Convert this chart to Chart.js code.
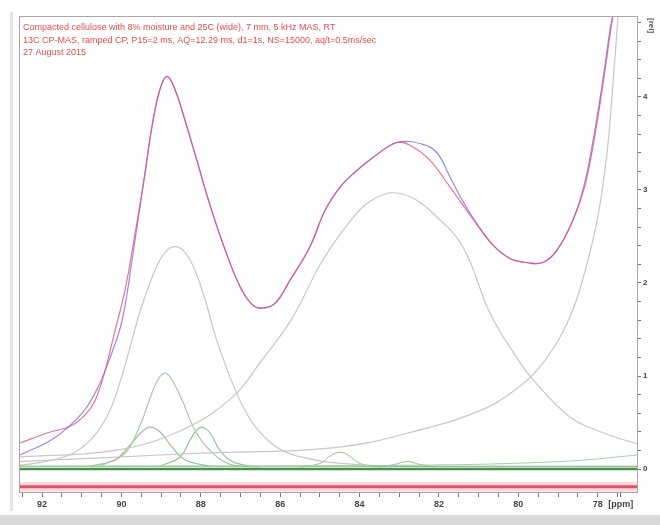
<!DOCTYPE html>
<html>
<head>
	<title>13C CP-MAS deconvolution</title>
	<style>
		body { margin: 0; background: #fff; }
		#wrap { width: 660px; height: 525px; }
	</style>
</head>
<body>
<div id="wrap"><canvas id="spec" width="660" height="525"></canvas></div>

<script src="https://cdn.jsdelivr.net/npm/chart.js@4.4.1/dist/chart.umd.min.js"></script>
<script type="text/javascript">

	// header lines printed in the plot
	var headerLines = [
		'Compacted cellulose with 8% moisture and 25C (wide), 7 mm, 5 kHz MAS, RT',
		'13C CP-MAS, ramped CP, P15=2 ms, AQ=12.29 ms, d1=1s, NS=15000, aq/t=0.5ms/sec',
		'27 August 2015'
	];

	var xLabels = [92, 90, 88, 86, 84, 82, 80, 78];
	var yLabels = [0, 1, 2, 3, 4];

	// measured spectrum (red)
	var expPpm = [92.55, 91.85, 91.29, 90.92, 90.66, 90.41, 90.16, 89.91, 89.66, 89.41, 89.23, 89.03, 88.85, 88.65, 88.40, 88.10, 87.77, 87.39, 87.01, 86.71, 86.46, 86.13, 85.75, 85.25, 84.87, 84.49, 84.12, 83.66, 83.06, 82.73, 82.23, 81.72, 81.40, 81.00, 80.60, 80.20, 79.80, 79.38, 79.03, 78.62, 78.32, 78.07, 77.87, 77.69, 77.62, 77.55];
	var expVal = [0.28, 0.39, 0.46, 0.58, 0.74, 1.06, 1.49, 1.92, 2.52, 3.16, 3.68, 4.08, 4.22, 4.08, 3.75, 3.32, 2.84, 2.36, 1.96, 1.77, 1.73, 1.78, 2.03, 2.39, 2.78, 3.03, 3.19, 3.35, 3.51, 3.48, 3.32, 3.03, 2.84, 2.60, 2.39, 2.26, 2.22, 2.22, 2.35, 2.68, 3.05, 3.59, 4.13, 4.67, 4.88, 5.20];

	// fitted sum (blue)
	var fitPpm = [92.55, 91.67, 90.99, 90.59, 90.24, 89.98, 89.73, 89.48, 89.23, 89.03, 88.85, 88.65, 88.40, 88.10, 87.77, 87.39, 87.01, 86.71, 86.46, 86.13, 85.75, 85.25, 84.87, 84.49, 84.12, 83.66, 83.06, 82.40, 82.05, 81.72, 81.40, 81.00, 80.60, 80.20, 79.80, 79.38, 79.03, 78.62, 78.32, 78.07, 77.87, 77.69, 77.62, 77.55];
	var fitVal = [0.15, 0.34, 0.60, 0.88, 1.25, 1.60, 2.25, 2.97, 3.68, 4.08, 4.22, 4.08, 3.75, 3.32, 2.84, 2.36, 1.96, 1.77, 1.73, 1.78, 2.03, 2.39, 2.78, 3.03, 3.19, 3.35, 3.51, 3.49, 3.40, 3.14, 2.88, 2.61, 2.39, 2.26, 2.22, 2.22, 2.35, 2.68, 3.09, 3.65, 4.18, 4.72, 4.88, 5.20];

	// broad components (grey)
	var peakAPpm = [92.55, 91.80, 91.17, 90.66, 90.29, 89.98, 89.73, 89.48, 89.15, 88.90, 88.65, 88.40, 88.15, 87.89, 87.64, 87.31, 86.96, 86.56, 85.95, 85.25, 84.49, 82.98, 77.01];
	var peakAVal = [0.04, 0.09, 0.18, 0.37, 0.63, 1.01, 1.39, 1.76, 2.14, 2.33, 2.39, 2.33, 2.14, 1.82, 1.44, 1.04, 0.69, 0.42, 0.20, 0.11, 0.06, 0.03, 0.02];

	var peakBPpm = [92.55, 90.16, 88.47, 87.21, 86.46, 85.70, 84.92, 84.07, 83.61, 83.16, 82.65, 82.15, 81.40, 80.72, 80.09, 79.63, 78.70, 77.87, 77.01];
	var peakBVal = [0.13, 0.20, 0.42, 0.77, 1.17, 1.62, 2.25, 2.75, 2.91, 2.97, 2.91, 2.75, 2.39, 1.68, 1.23, 0.96, 0.56, 0.39, 0.27];

	var peakCPpm = [92.55, 90.54, 88.02, 84.62, 82.48, 80.79, 79.96, 79.53, 79.13, 78.78, 78.45, 78.02, 77.77, 77.62, 77.49, 77.42];
	var peakCVal = [0.08, 0.12, 0.17, 0.23, 0.42, 0.66, 0.89, 1.06, 1.29, 1.56, 1.93, 2.66, 3.38, 4.12, 4.86, 5.30];

	// narrow components (green)
	var g1Ppm = [90.54, 89.91, 89.53, 89.28, 89.08, 88.90, 88.73, 88.47, 88.15, 87.77, 87.26, 86.51];
	var g1Val = [0.03, 0.17, 0.47, 0.76, 0.96, 1.03, 0.96, 0.74, 0.42, 0.20, 0.05, 0.02];

	var g2Ppm = [90.79, 90.16, 89.78, 89.48, 89.28, 89.03, 88.73, 88.40, 87.77];
	var g2Val = [0.03, 0.10, 0.26, 0.40, 0.45, 0.40, 0.24, 0.10, 0.03];

	var g3Ppm = [89.03, 88.52, 88.27, 88.10, 87.97, 87.77, 87.52, 87.21, 86.76];
	var g3Val = [0.03, 0.13, 0.31, 0.42, 0.45, 0.39, 0.20, 0.08, 0.03];

	var g4Ppm = [85.50, 85.00, 84.70, 84.49, 84.29, 83.99, 83.49];
	var g4Val = [0.02, 0.06, 0.15, 0.18, 0.15, 0.06, 0.02];

	var g5Ppm = [83.49, 83.11, 82.81, 82.48, 82.10];
	var g5Val = [0.02, 0.05, 0.08, 0.05, 0.02];

	// baselines and residual
	var flatPpm = [92.58, 77.01];
	var zeroVal = [0.0, 0.0];
	var lowVal = [0.03, 0.03];
	var slopePpm = [92.58, 82.98, 78.95, 77.01];
	var slopeVal = [0.03, 0.04, 0.08, 0.15];
	var residVal = [-0.19, -0.19];


	function pts(xs, ys) {
		var arr = [];
		for (var i = 0; i < xs.length; i++) {
			arr.push({x: xs[i], y: ys[i]});
		}
		return arr;
	}

	function line(xs, ys, color, width) {
		return {
			data: pts(xs, ys),
			borderColor: color,
			borderWidth: width,
			pointRadius: 0,
			fill: false,
			tension: 0.4
		};
	}

	var grey = 'rgb(204,196,204)';
	var green = 'rgb(150,195,150)';

	var datasets = [
		line(flatPpm, residVal, 'rgba(245,150,160,0.35)', 10),
		line(flatPpm, residVal, 'rgb(222,45,60)', 3),
		line(slopePpm, slopeVal, 'rgb(165,208,165)', 1),
		line(flatPpm, lowVal, 'rgb(125,182,125)', 1),
		line(peakCPpm, peakCVal, grey, 1.2),
		line(peakBPpm, peakBVal, grey, 1.2),
		line(peakAPpm, peakAVal, grey, 1.2),
		line(g1Ppm, g1Val, 'rgb(172,196,168)', 1.2),
		line(g2Ppm, g2Val, green, 1.2),
		line(g3Ppm, g3Val, green, 1.2),
		line(g4Ppm, g4Val, green, 1),
		line(g5Ppm, g5Val, green, 1),
		line(flatPpm, zeroVal, 'rgb(70,145,80)', 2.5),
		line(expPpm, expVal, 'rgba(225,80,125,0.8)', 1.2),
		line(fitPpm, fitVal, 'rgba(120,95,225,0.75)', 1.2)
	];

	// frame, header text and axis unit
	var decor = {
		id: 'decor',
		beforeDraw: function (chart) {
			var c = chart.ctx;
			c.save();
			c.fillStyle = '#ffffff';
			c.fillRect(0, 0, chart.width, chart.height);
			c.fillStyle = '#d9d9d9';
			c.fillRect(0, chart.height - 10, chart.width, 10);
			c.fillStyle = '#e4e4e4';
			c.fillRect(10, 12, 3, chart.height - 26);
			c.restore();
		},
		afterDraw: function (chart) {
			var c = chart.ctx;
			var a = chart.chartArea;
			c.save();
			c.strokeStyle = '#a8a8a8';
			c.lineWidth = 1;
			c.strokeRect(a.left + 0.5, a.top + 0.5, a.right - a.left, a.bottom - a.top);
			c.fillStyle = 'rgb(235,75,75)';
			c.font = '9px "Liberation Sans", Arial, sans-serif';
			c.textBaseline = 'alphabetic';
			for (var i = 0; i < headerLines.length; i++) {
				c.fillText(headerLines[i], a.left + 4, a.top + 14 + i * 12.5);
			}
			c.fillStyle = '#555';
			c.font = 'bold 8px "Liberation Sans", Arial, sans-serif';
			c.translate(a.right + 10, a.top + 2);
			c.rotate(Math.PI / 2);
			c.fillText('[rel]', 0, -2);
			c.restore();
		}
	};

	var chart = new Chart('spec', {
		type: 'line',
		data: {datasets: datasets},
		options: {
			responsive: false,
			animation: false,
			devicePixelRatio: 1,
			layout: {padding: {left: 19, top: 16, right: 0, bottom: 10}},
			plugins: {legend: {display: false}, tooltip: {enabled: false}},
			scales: {
				x: {
					type: 'linear',
					reverse: true,
					min: 77.01,
					max: 92.58,
					grid: {drawOnChartArea: false, tickLength: 5, color: '#777'},
					border: {color: '#a8a8a8'},
					afterBuildTicks: function (scale) {
						var t = [];
						for (var v = 92.5; v >= 77.5; v -= 0.5) t.push({value: v});
						t.push({value: 77.42});
						scale.ticks = t;
					},
					ticks: {
						autoSkip: false,
						maxRotation: 0,
						padding: 2,
						color: '#444',
						font: {size: 9, weight: 'bold', family: 'Liberation Sans'},
						callback: function (v) {
							if (v === 77.42) return '[ppm]';
							return xLabels.indexOf(v) >= 0 ? String(v) : '';
						}
					},
					afterFit: function (scale) { scale.height = 23; }
				},
				y: {
					type: 'linear',
					position: 'right',
					min: -0.247,
					max: 4.87,
					grid: {drawOnChartArea: false, tickLength: 4, color: '#777'},
					border: {color: '#999'},
					afterBuildTicks: function (scale) {
						var t = [];
						for (var k = 0; k <= 24; k++) t.push({value: k / 5});
						scale.ticks = t;
					},
					ticks: {
						autoSkip: false,
						padding: 2,
						color: '#444',
						font: {size: 8, weight: 'bold', family: 'Liberation Sans'},
						callback: function (v) {
							var r = Math.round(v * 100) / 100;
							return yLabels.indexOf(r) >= 0 ? String(r) : '';
						}
					},
					afterFit: function (scale) { scale.width = 23; }
				}
			}
		},
		plugins: [decor]
	});

</script>
</body>
</html>
